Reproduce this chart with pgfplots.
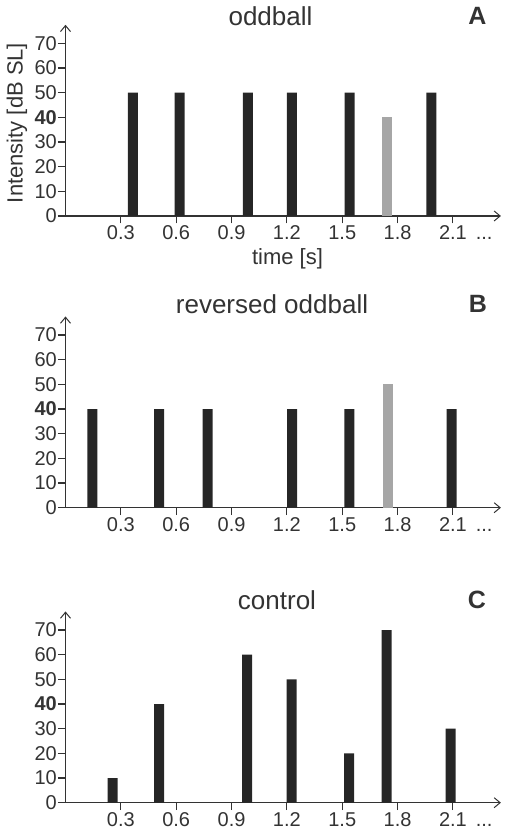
\documentclass[border=0pt]{standalone}
\usepackage{pgfplots}
\pgfplotsset{compat=1.18}
\usepackage{fontspec}
\setmainfont{Liberation Sans}
\usetikzlibrary{arrows.meta}
\definecolor{bardark}{HTML}{262626}
\definecolor{bargray}{HTML}{A6A6A6}
\definecolor{axcol}{HTML}{333333}
\pgfplotsset{
  panel/.style={
    scale only axis,
    width=435.4bp, height=191.2bp,
    xmin=0, xmax=2.36, ymin=0, ymax=77.5,
    axis lines=left,
    axis line style={axcol, line width=1.1bp},
    every outer x axis line/.append style={-{Straight Barb[length=6bp,width=10bp,line width=1bp]}},
    every outer y axis line/.append style={-{Straight Barb[length=6bp,width=10bp,line width=1bp]}},
    tick align=outside,
    major tick length=7.5bp,
    tick style={axcol, line width=1.1bp},
    xtick={0.3,0.6,0.9,1.2,1.5,1.8,2.1},
    xticklabels={0.3,0.6,0.9,1.2,1.5,1.8,{2.1\rlap{\hspace{0.45em}...}}},
    ytick={0,10,20,30,40,50,60,70},
    yticklabels={0,10,20,30,\textbf{40},50,60,70},
    /pgf/number format/assume math mode=true,
    tick label style={font=\fontsize{20bp}{22bp}\selectfont, text=axcol},
    yticklabel style={inner sep=1bp},
    xticklabel style={inner sep=1bp, yshift=-1bp},
    clip=false,
  },
  dark/.style={ybar, bar width=10bp, bar shift=0pt, fill=bardark, draw=none},
  light/.style={ybar, bar width=10bp, bar shift=0pt, fill=bargray, draw=none},
}
\begin{document}
\begin{tikzpicture}
\useasboundingbox (0,0) rectangle (509bp,837bp);
% Panel A
\begin{axis}[panel, at={(65.5bp,621bp)}, anchor=south west]
\addplot[dark] coordinates {(0.365,50) (0.618,50) (0.989,50) (1.227,50) (1.540,50) (1.983,50)};
\addplot[light] coordinates {(1.745,40)};
\end{axis}
% Panel B
\begin{axis}[panel, at={(65.5bp,329.3bp)}, anchor=south west]
\addplot[dark] coordinates {(0.145,40) (0.507,40) (0.771,40) (1.229,40) (1.538,40) (2.093,40)};
\addplot[light] coordinates {(1.746,50)};
\end{axis}
% Panel C
\begin{axis}[panel, at={(65.5bp,34.3bp)}, anchor=south west]
\addplot[dark] coordinates {(0.256,10) (0.508,40) (0.985,60) (1.226,50) (1.537,20) (1.741,70) (2.088,30)};
\end{axis}
% titles and labels
\node[anchor=base, text=axcol, font=\fontsize{26bp}{28bp}\selectfont] at (270.5bp,811bp) {oddball};
\node[anchor=base, text=axcol, font=\fontsize{25bp}{28bp}\selectfont\bfseries] at (477.5bp,812bp) {A};
\node[anchor=base, text=axcol, font=\fontsize{26bp}{28bp}\selectfont] at (272bp,523.7bp) {reversed oddball};
\node[anchor=base, text=axcol, font=\fontsize{25bp}{28bp}\selectfont\bfseries] at (478bp,524bp) {B};
\node[anchor=base, text=axcol, font=\fontsize{26bp}{28bp}\selectfont] at (277bp,227bp) {control};
\node[anchor=base, text=axcol, font=\fontsize{25bp}{28bp}\selectfont\bfseries] at (477bp,228bp) {C};
\node[anchor=base, text=axcol, font=\fontsize{22bp}{24bp}\selectfont] at (287.5bp,572bp) {time [s]};
\node[anchor=base, rotate=90, text=axcol, font=\fontsize{22bp}{24bp}\selectfont] at (22.7bp,714bp) {Intensity [dB SL]};
\end{tikzpicture}
\end{document}
